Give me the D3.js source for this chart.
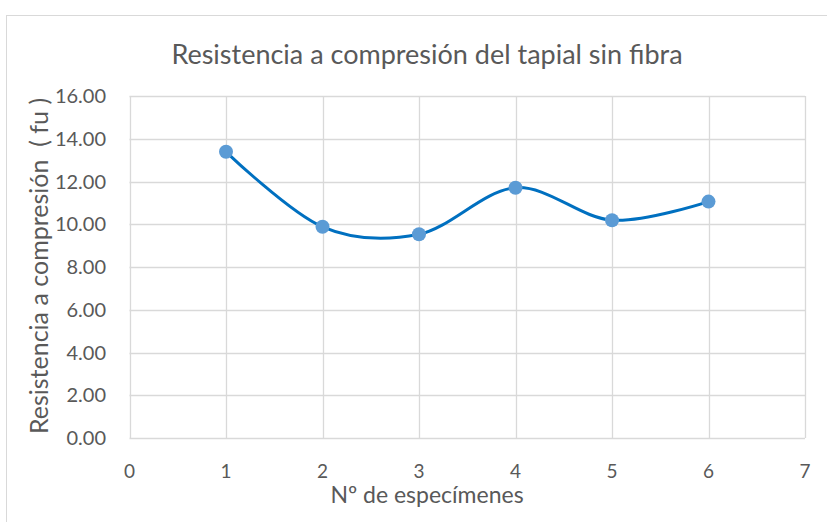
<!DOCTYPE html>
<html>
<head>
<meta charset="utf-8">
<script src="https://cdn.jsdelivr.net/npm/d3@7"></script>
<style>
  body { margin: 0; background: #fff; }
  text { font-family: Lato, "Open Sans", sans-serif; fill: #595959; }
</style>
</head>
<body>
<div class="chart"></div>
<script>
var specimens = [1, 2, 3, 4, 5, 6];
var strength = [13.39, 9.88, 9.53, 11.71, 10.19, 11.06];
var xTicks = [0, 1, 2, 3, 4, 5, 6, 7];
var yTicks = [0, 2, 4, 6, 8, 10, 12, 14, 16];

var width = 827, height = 522;
var plot = { left: 129.5, right: 805, top: 96, bottom: 438 };

var svg = d3.select(".chart")
            .append("svg")
            .attr("width", width)
            .attr("height", height);

// chart border
svg.append("rect")
    .attr("x", 6.5)
    .attr("y", 15.5)
    .attr("width", 830)
    .attr("height", 520)
    .attr("fill", "none")
    .attr("stroke", "#d9d9d9");

var x = d3.scaleLinear().domain([0, 7]).range([plot.left, plot.right]);
var y = d3.scaleLinear().domain([0, 16]).range([plot.bottom, plot.top]);

// gridlines
svg.append("g").selectAll("line")
    .data(yTicks)
    .enter().append("line")
    .attr("x1", plot.left).attr("x2", plot.right)
    .attr("y1", function(d) { return Math.round(y(d)) + 0.5; })
    .attr("y2", function(d) { return Math.round(y(d)) + 0.5; })
    .attr("stroke", "#d9d9d9")
    .attr("stroke-width", 1.3);

svg.append("g").selectAll("line")
    .data(xTicks)
    .enter().append("line")
    .attr("y1", plot.top).attr("y2", plot.bottom)
    .attr("x1", function(d) { return Math.round(x(d)) + 0.5; })
    .attr("x2", function(d) { return Math.round(x(d)) + 0.5; })
    .attr("stroke", "#d9d9d9")
    .attr("stroke-width", 1.3);

// tick labels
svg.append("g").selectAll("text")
    .data(yTicks)
    .enter().append("text")
    .attr("x", 106)
    .attr("y", function(d) { return y(d) + 7; })
    .attr("text-anchor", "end")
    .style("font-size", "20px")
    .text(function(d) { return d.toFixed(2); });

svg.append("g").selectAll("text")
    .data(xTicks)
    .enter().append("text")
    .attr("x", function(d) { return x(d); })
    .attr("y", 478)
    .attr("text-anchor", "middle")
    .style("font-size", "19px")
    .text(function(d) { return d; });

// titles
svg.append("text")
    .attr("x", 427)
    .attr("y", 64)
    .attr("text-anchor", "middle")
    .style("font-size", "27px")
    .text("Resistencia a compresión del tapial sin fibra");

svg.append("text")
    .attr("x", 427)
    .attr("y", 503)
    .attr("text-anchor", "middle")
    .style("font-size", "23px")
    .text("Nº de especímenes");

svg.append("text")
    .attr("transform", "translate(48," + 266 + ") rotate(-90)")
    .attr("text-anchor", "middle")
    .style("font-size", "25px")
    .style("white-space", "pre")
    .text("Resistencia a compresión  ( fu )");

// series
var points = specimens.map(function(d, i) { return [d, strength[i]]; });

var line = d3.line()
    .x(function(d) { return x(d[0]); })
    .y(function(d) { return y(d[1]); })
    .curve(d3.curveCardinal.tension(0));

svg.append("path")
    .datum(points)
    .attr("d", line)
    .attr("fill", "none")
    .attr("stroke", "#0070c0")
    .attr("stroke-width", 3);

svg.append("g").selectAll("circle")
    .data(points)
    .enter().append("circle")
    .attr("cx", function(d) { return x(d[0]); })
    .attr("cy", function(d) { return y(d[1]); })
    .attr("r", 7)
    .attr("fill", "#5b9bd5");
</script>
</body>
</html>
